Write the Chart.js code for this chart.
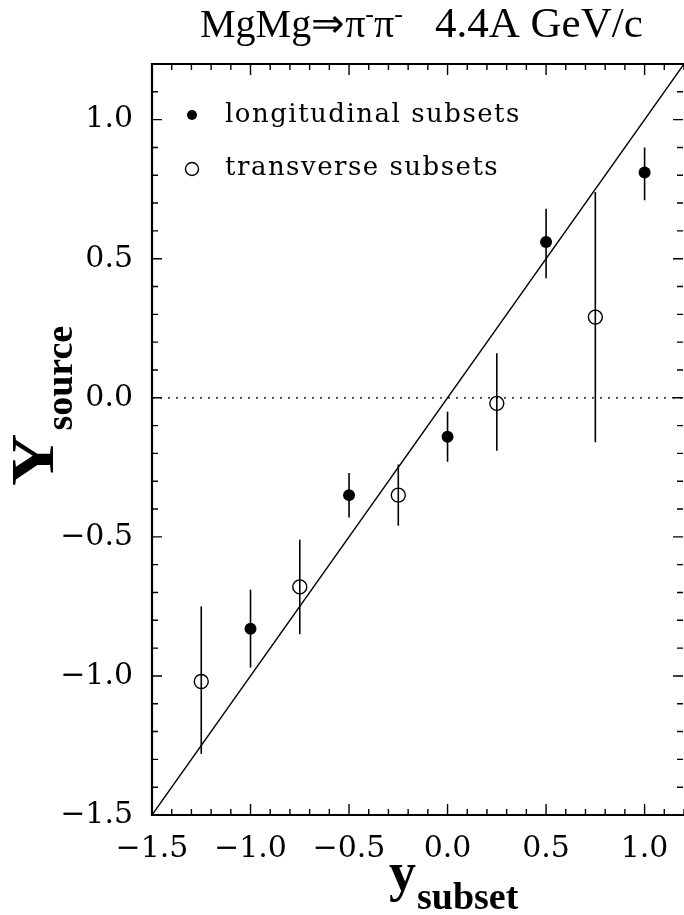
<!DOCTYPE html>
<html>
<head>
<meta charset="utf-8">
<script src="https://cdn.jsdelivr.net/npm/chart.js@4.4.0/dist/chart.umd.min.js"></script>
<style>
  html, body { margin: 0; padding: 0; background: #fff; }
  #wrap { width: 684px; height: 915px; }
</style>
</head>
<body>
<div id="wrap"><canvas id="chart" width="684" height="915"></canvas></div>
<script>
// axis ranges and labelled ticks
const xRange = [-1.5, 1.2];
const yRange = [-1.5, 1.2];
const tickLabels = [-1.5, -1.0, -0.5, 0.0, 0.5, 1.0];

// longitudinal subsets (filled)
const longX = [-1.0, -0.5, 0.0, 0.5, 1.0];
const longY = [-0.83, -0.35, -0.14, 0.56, 0.81];
const longLo = [-0.97, -0.43, -0.23, 0.43, 0.71];
const longHi = [-0.69, -0.27, -0.05, 0.68, 0.90];

// transverse subsets (open)
const transX = [-1.25, -0.75, -0.25, 0.25, 0.75];
const transY = [-1.02, -0.68, -0.35, -0.02, 0.29];
const transLo = [-1.28, -0.85, -0.46, -0.19, -0.16];
const transHi = [-0.75, -0.51, -0.24, 0.16, 0.74];

// reference lines
const diagX = [-1.5, 1.2];
const diagY = [-1.5, 1.2];
const zeroX = [-1.5, 1.2];
const zeroY = [0, 0];

const serif = '"Liberation Serif", "Times New Roman", serif';
const tickFamily = '"DejaVu Serif", serif';

const toPts = (xs, ys) => xs.map((v, i) => ({ x: v, y: ys[i] }));
const isMajor = v => tickLabels.some(t => Math.abs(t - v) < 1e-6);
const fmt = v => {
  const s = Math.abs(v).toFixed(1);
  return v < -1e-9 ? '\u2212' + s : s;
};

const errorSets = [
  { x: longX, lo: longLo, hi: longHi },
  { x: transX, lo: transLo, hi: transHi }
];

const decor = {
  id: 'decor',
  beforeDatasetsDraw(chart) {
    const ctx = chart.ctx, xs = chart.scales.x, ys = chart.scales.y;
    ctx.save();
    ctx.strokeStyle = '#000';
    ctx.lineWidth = 1.6;
    errorSets.forEach(set => {
      set.x.forEach((xv, i) => {
        const px = xs.getPixelForValue(xv);
        ctx.beginPath();
        ctx.moveTo(px, ys.getPixelForValue(set.lo[i]));
        ctx.lineTo(px, ys.getPixelForValue(set.hi[i]));
        ctx.stroke();
      });
    });
    ctx.restore();
  },
  afterDraw(chart) {
    const ctx = chart.ctx, a = chart.chartArea;
    const xs = chart.scales.x, ys = chart.scales.y;
    ctx.save();
    ctx.strokeStyle = '#000';
    ctx.fillStyle = '#000';

    // frame (right edge falls on the canvas edge)
    ctx.lineWidth = 2.2;
    ctx.beginPath();
    ctx.moveTo(a.right, a.top);
    ctx.lineTo(a.left, a.top);
    ctx.lineTo(a.left, a.bottom);
    ctx.lineTo(a.right, a.bottom);
    ctx.stroke();

    // inward ticks on all sides
    ctx.lineWidth = 1.4;
    xs.ticks.forEach(t => {
      const px = xs.getPixelForValue(t.value);
      const len = isMajor(t.value) ? 11 : 6;
      ctx.beginPath();
      ctx.moveTo(px, a.bottom); ctx.lineTo(px, a.bottom - len);
      ctx.moveTo(px, a.top); ctx.lineTo(px, a.top + len);
      ctx.stroke();
    });
    ys.ticks.forEach(t => {
      const py = ys.getPixelForValue(t.value);
      const len = isMajor(t.value) ? 10 : 6;
      ctx.beginPath();
      ctx.moveTo(a.left, py); ctx.lineTo(a.left + len, py);
      ctx.moveTo(a.right - 1, py); ctx.lineTo(a.right - 1 - len, py);
      ctx.stroke();
    });

    // title
    ctx.textBaseline = 'alphabetic';
    ctx.textAlign = 'left';
    let x = 200;
    const base = 37;
    const big = '40px ' + serif, sup = '26px ' + serif;
    const piece = (txt, font, dy) => {
      ctx.font = font;
      ctx.fillText(txt, x, base + (dy || 0));
      x += ctx.measureText(txt).width;
    };
    piece('MgMg', big);
    piece('\u21D2', big);
    piece('\u03C0', big);
    piece('-', sup, -15);
    piece('\u03C0', big);
    piece('-', sup, -15);
    x = 435;
    piece('4.4A GeV/c', '43px ' + serif);

    // x axis title
    ctx.font = 'bold 54px ' + serif;
    ctx.fillText('y', 389, 890);
    ctx.font = 'bold 38px ' + serif;
    ctx.fillText('subset', 417, 909);

    // y axis title
    ctx.save();
    ctx.translate(53, 486);
    ctx.rotate(-Math.PI / 2);
    ctx.save();
    ctx.scale(1.17, 1);
    ctx.font = 'bold 62px ' + serif;
    ctx.fillText('Y', 0, 0);
    const wY = ctx.measureText('Y').width * 1.17;
    ctx.restore();
    ctx.font = 'bold 38px ' + serif;
    ctx.fillText('source', wY + 3, 19);
    ctx.restore();

    // legend inside the frame
    const ds = chart.data.datasets;
    ctx.font = '26px ' + tickFamily;
    if ('letterSpacing' in ctx) ctx.letterSpacing = '1.5px';
    ctx.beginPath();
    ctx.arc(192, 115, 5, 0, Math.PI * 2);
    ctx.fill();
    ctx.fillText(ds[0].label, 225, 122);
    ctx.lineWidth = 1.4;
    ctx.beginPath();
    ctx.arc(192, 169, 6.5, 0, Math.PI * 2);
    ctx.stroke();
    ctx.fillText(ds[1].label, 225, 175);
    ctx.restore();
  }
};

new Chart(document.getElementById('chart'), {
  type: 'scatter',
  data: {
    datasets: [
      {
        label: 'longitudinal subsets',
        data: toPts(longX, longY),
        pointStyle: 'circle',
        pointRadius: 6,
        backgroundColor: '#000',
        borderColor: '#000',
        borderWidth: 0
      },
      {
        label: 'transverse subsets',
        data: toPts(transX, transY),
        pointStyle: 'circle',
        pointRadius: 7,
        backgroundColor: 'rgba(0,0,0,0)',
        borderColor: '#000',
        borderWidth: 1.4
      },
      {
        label: 'diagonal',
        data: toPts(diagX, diagY),
        showLine: true,
        pointRadius: 0,
        borderColor: '#000',
        borderWidth: 1.4
      },
      {
        label: 'zero',
        data: toPts(zeroX, zeroY),
        showLine: true,
        pointRadius: 0,
        borderColor: '#000',
        borderWidth: 1.2,
        borderDash: [2, 6]
      }
    ]
  },
  options: {
    responsive: false,
    animation: false,
    devicePixelRatio: 1,
    layout: { autoPadding: false, padding: { top: 64, right: 0, left: 0, bottom: 0 } },
    plugins: {
      legend: { display: false },
      tooltip: { enabled: false },
      title: { display: false }
    },
    scales: {
      x: {
        type: 'linear',
        min: xRange[0],
        max: xRange[1],
        grid: { display: false },
        border: { display: false },
        ticks: {
          stepSize: 0.1,
          autoSkip: false,
          maxRotation: 0,
          padding: 8,
          color: '#000',
          font: { family: tickFamily, size: 30 },
          callback: v => isMajor(v) ? fmt(v) : ''
        },
        afterFit: s => {
          s.height = 100;
          s.paddingLeft = 0;
          s.paddingRight = 0;
        }
      },
      y: {
        type: 'linear',
        min: yRange[0],
        max: yRange[1],
        grid: { display: false },
        border: { display: false },
        ticks: {
          stepSize: 0.1,
          autoSkip: false,
          padding: 11,
          color: '#000',
          font: { family: tickFamily, size: 30 },
          callback: v => isMajor(v) ? fmt(v) : ''
        },
        afterFit: s => {
          s.width = 152;
          s.paddingTop = 0;
          s.paddingBottom = 0;
        }
      }
    }
  },
  plugins: [decor]
});
</script>
</body>
</html>
